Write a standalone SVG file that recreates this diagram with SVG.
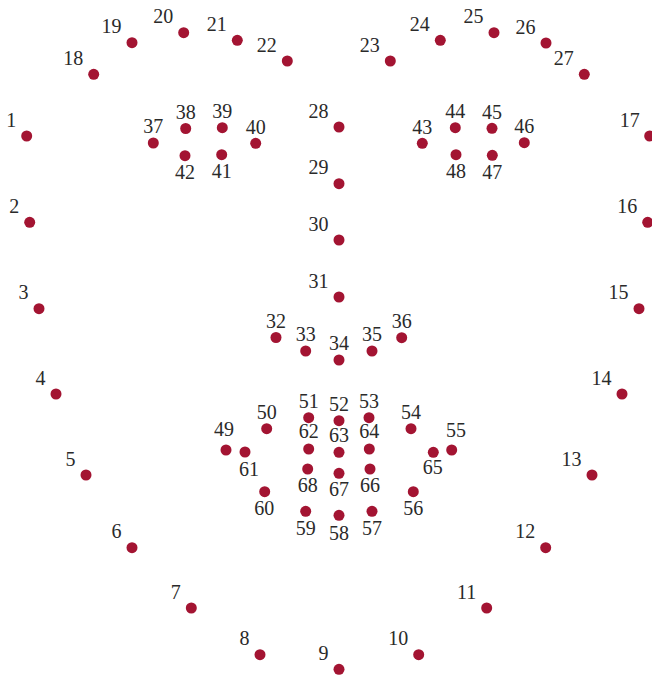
<svg xmlns="http://www.w3.org/2000/svg" width="652" height="677" viewBox="0 0 652 677">
<style>
circle{fill:#a31432}
text{font-family:"Liberation Serif","Times New Roman",serif;font-size:20px;fill:#2a2a2a}
.l{text-anchor:end}
.c{text-anchor:middle}
</style>
<rect width="652" height="677" fill="#fff"/>
<g id="nodes">
<g id="p1"><circle cx="26.7" cy="136" r="5.5"/><text class="l" x="16.2" y="126.5">1</text></g>
<g id="p2"><circle cx="29.7" cy="222.3" r="5.5"/><text class="l" x="19.2" y="212.8">2</text></g>
<g id="p3"><circle cx="39" cy="308.7" r="5.5"/><text class="l" x="28.5" y="299.2">3</text></g>
<g id="p4"><circle cx="56" cy="394" r="5.5"/><text class="l" x="45.5" y="384.5">4</text></g>
<g id="p5"><circle cx="86" cy="475" r="5.5"/><text class="l" x="75.5" y="465.5">5</text></g>
<g id="p6"><circle cx="132" cy="547.7" r="5.5"/><text class="l" x="121.5" y="538.2">6</text></g>
<g id="p7"><circle cx="191.3" cy="608" r="5.5"/><text class="l" x="180.8" y="598.5">7</text></g>
<g id="p8"><circle cx="260" cy="654.7" r="5.5"/><text class="l" x="249.5" y="645.2">8</text></g>
<g id="p9"><circle cx="339" cy="669.3" r="5.5"/><text class="l" x="328.5" y="659.8">9</text></g>
<g id="p10"><circle cx="418.7" cy="654.7" r="5.5"/><text class="l" x="408.2" y="645.2">10</text></g>
<g id="p11"><circle cx="486.7" cy="608" r="5.5"/><text class="l" x="476.2" y="598.5">11</text></g>
<g id="p12"><circle cx="545.7" cy="547.7" r="5.5"/><text class="l" x="535.2" y="538.2">12</text></g>
<g id="p13"><circle cx="592" cy="475" r="5.5"/><text class="l" x="581.5" y="465.5">13</text></g>
<g id="p14"><circle cx="622" cy="394" r="5.5"/><text class="l" x="611.5" y="384.5">14</text></g>
<g id="p15"><circle cx="639" cy="308.7" r="5.5"/><text class="l" x="628.5" y="299.2">15</text></g>
<g id="p16"><circle cx="647.7" cy="222.3" r="5.5"/><text class="l" x="637.2" y="212.8">16</text></g>
<g id="p17"><circle cx="649.7" cy="136" r="5.5"/><text class="l" x="639.7" y="126.5">17</text></g>
<g id="p18"><circle cx="93.7" cy="74.3" r="5.5"/><text class="l" x="83.2" y="64.8">18</text></g>
<g id="p19"><circle cx="132" cy="42.7" r="5.5"/><text class="l" x="121.5" y="33.2">19</text></g>
<g id="p20"><circle cx="183.7" cy="32.7" r="5.5"/><text class="l" x="173.2" y="23.2">20</text></g>
<g id="p21"><circle cx="237.3" cy="40.3" r="5.5"/><text class="l" x="226.8" y="30.8">21</text></g>
<g id="p22"><circle cx="287.3" cy="61" r="5.5"/><text class="l" x="276.8" y="51.5">22</text></g>
<g id="p23"><circle cx="390.3" cy="61" r="5.5"/><text class="l" x="379.8" y="51.5">23</text></g>
<g id="p24"><circle cx="440.3" cy="40.3" r="5.5"/><text class="l" x="429.8" y="30.8">24</text></g>
<g id="p25"><circle cx="494" cy="32.7" r="5.5"/><text class="l" x="483.5" y="23.2">25</text></g>
<g id="p26"><circle cx="546" cy="43" r="5.5"/><text class="l" x="535.5" y="33.5">26</text></g>
<g id="p27"><circle cx="584.3" cy="74.3" r="5.5"/><text class="l" x="573.8" y="64.8">27</text></g>
<g id="p28"><circle cx="339" cy="127" r="5.5"/><text class="l" x="328.5" y="117.5">28</text></g>
<g id="p29"><circle cx="339" cy="183.7" r="5.5"/><text class="l" x="328.5" y="174.2">29</text></g>
<g id="p30"><circle cx="339" cy="240" r="5.5"/><text class="l" x="328.5" y="230.5">30</text></g>
<g id="p31"><circle cx="339" cy="297" r="5.5"/><text class="l" x="328.5" y="287.5">31</text></g>
<g id="p32"><circle cx="276" cy="337.5" r="5.5"/><text class="c" x="276" y="328">32</text></g>
<g id="p33"><circle cx="305.7" cy="351" r="5.5"/><text class="c" x="305.7" y="341">33</text></g>
<g id="p34"><circle cx="339" cy="360" r="5.5"/><text class="c" x="339" y="350">34</text></g>
<g id="p35"><circle cx="372" cy="351" r="5.5"/><text class="c" x="372" y="341">35</text></g>
<g id="p36"><circle cx="401.7" cy="337.7" r="5.5"/><text class="c" x="401.7" y="328.2">36</text></g>
<g id="p37"><circle cx="153.3" cy="143" r="5.5"/><text class="c" x="153.3" y="133.3">37</text></g>
<g id="p38"><circle cx="185.7" cy="128.5" r="5.5"/><text class="c" x="185.7" y="119">38</text></g>
<g id="p39"><circle cx="222.3" cy="127.7" r="5.5"/><text class="c" x="222.3" y="118.2">39</text></g>
<g id="p40"><circle cx="255.7" cy="143.3" r="5.5"/><text class="c" x="255.7" y="133.5">40</text></g>
<g id="p41"><circle cx="221.7" cy="154.7" r="5.5"/><text class="c" x="221.7" y="178.2">41</text></g>
<g id="p42"><circle cx="185" cy="155.7" r="5.5"/><text class="c" x="185" y="179.2">42</text></g>
<g id="p43"><circle cx="422.3" cy="143.3" r="5.5"/><text class="c" x="422.3" y="133.5">43</text></g>
<g id="p44"><circle cx="455.3" cy="127.7" r="5.5"/><text class="c" x="455.3" y="118.2">44</text></g>
<g id="p45"><circle cx="492" cy="128.3" r="5.5"/><text class="c" x="492" y="118.8">45</text></g>
<g id="p46"><circle cx="524.3" cy="142.7" r="5.5"/><text class="c" x="524.3" y="133.2">46</text></g>
<g id="p47"><circle cx="492.3" cy="155.3" r="5.5"/><text class="c" x="492.3" y="178.8">47</text></g>
<g id="p48"><circle cx="456" cy="154.7" r="5.5"/><text class="c" x="456" y="178.2">48</text></g>
<g id="p49"><circle cx="226" cy="450" r="5.5"/><text class="c" x="224" y="436">49</text></g>
<g id="p50"><circle cx="266.7" cy="428.7" r="5.5"/><text class="c" x="266.7" y="418.5">50</text></g>
<g id="p51"><circle cx="308.7" cy="417.7" r="5.5"/><text class="c" x="308.7" y="408.3">51</text></g>
<g id="p52"><circle cx="339" cy="420.7" r="5.5"/><text class="c" x="339" y="410.8">52</text></g>
<g id="p53"><circle cx="369" cy="417.7" r="5.5"/><text class="c" x="369" y="408.3">53</text></g>
<g id="p54"><circle cx="411" cy="428.7" r="5.5"/><text class="c" x="411" y="418.5">54</text></g>
<g id="p55"><circle cx="451.7" cy="450" r="5.5"/><text class="c" x="456" y="437">55</text></g>
<g id="p56"><circle cx="413.3" cy="491.7" r="5.5"/><text class="c" x="413.3" y="515">56</text></g>
<g id="p57"><circle cx="372" cy="511.3" r="5.5"/><text class="c" x="372" y="535">57</text></g>
<g id="p58"><circle cx="339" cy="515.3" r="5.5"/><text class="c" x="339" y="539.5">58</text></g>
<g id="p59"><circle cx="305.7" cy="511.3" r="5.5"/><text class="c" x="305.7" y="535">59</text></g>
<g id="p60"><circle cx="264.7" cy="491.7" r="5.5"/><text class="c" x="264.3" y="515">60</text></g>
<g id="p61"><circle cx="245" cy="452" r="5.5"/><text class="c" x="249" y="475.7">61</text></g>
<g id="p62"><circle cx="308.7" cy="449" r="5.5"/><text class="c" x="308.7" y="438.3">62</text></g>
<g id="p63"><circle cx="339" cy="452.3" r="5.5"/><text class="c" x="339" y="441.7">63</text></g>
<g id="p64"><circle cx="369.3" cy="449" r="5.5"/><text class="c" x="369.3" y="438.3">64</text></g>
<g id="p65"><circle cx="433.3" cy="452.3" r="5.5"/><text class="c" x="432.7" y="474">65</text></g>
<g id="p66"><circle cx="370" cy="469" r="5.5"/><text class="c" x="370" y="492.3">66</text></g>
<g id="p67"><circle cx="339" cy="473.3" r="5.5"/><text class="c" x="339" y="496">67</text></g>
<g id="p68"><circle cx="307.7" cy="469" r="5.5"/><text class="c" x="307.7" y="492.3">68</text></g>
</g>
</svg>
